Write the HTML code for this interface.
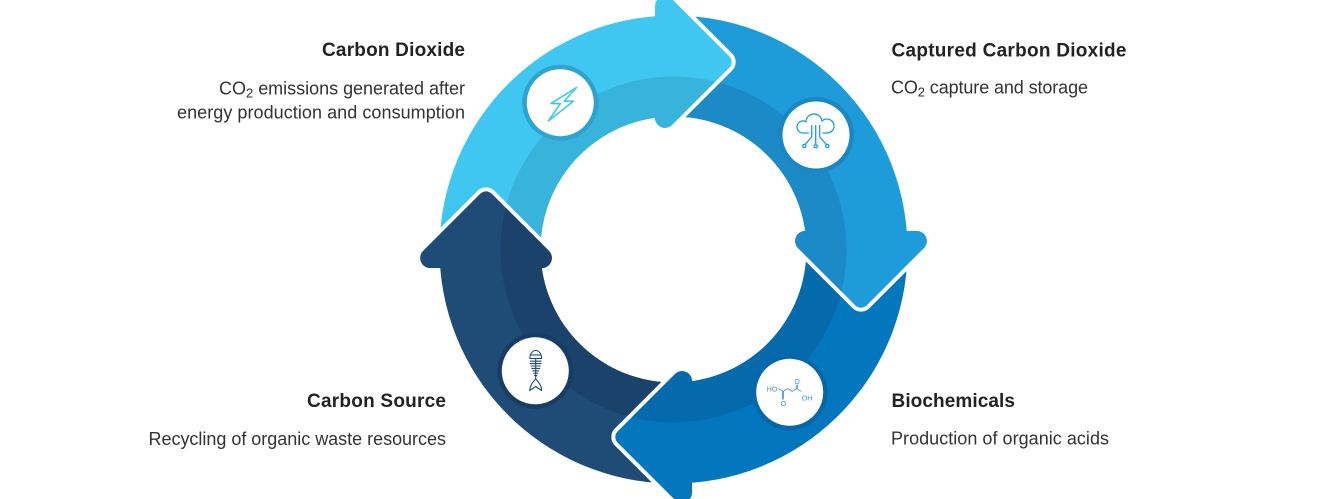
<!DOCTYPE html>
<html>
<head>
<meta charset="utf-8">
<style>
  html, body { margin: 0; padding: 0; background: #ffffff; }
  body { width: 1337px; height: 499px; overflow: hidden; }
  svg { display: block; }
  .t { font-family: "Liberation Sans", Arial, sans-serif; }
</style>
</head>
<body>
<svg width="1337" height="499" viewBox="0 0 1337 499" xmlns="http://www.w3.org/2000/svg">
  <defs>
    <path id="seg" d="M439.65,258 A234,234 0 0 1 665,15.65 L665,116.77 A133,133 0 0 0 540.77,258 Z"/>
    <path id="ah" d="M655,117.86 L655,6.14 A10,10 0 0 1 672.07,-0.93 L729.34,56.34 A8,8 0 0 1 729.34,67.66 L672.07,124.93 A10,10 0 0 1 655,117.86 Z"/>
    <path id="halo" d="M672.07,-0.93 L729.34,56.34 A8,8 0 0 1 729.34,67.66 L672.07,124.93" fill="none" stroke="#ffffff" stroke-width="8" stroke-linejoin="round"/>
    <clipPath id="disk" clipPathUnits="userSpaceOnUse">
      <circle cx="673.5" cy="249.5" r="173"/>
    </clipPath>
  </defs>

  <!-- arc segments -->
  <use href="#seg" fill="#3FC7F2"/>
  <use href="#seg" fill="#1E9CDA" transform="rotate(90 673.5 249.5)"/>
  <use href="#seg" fill="#0277BD" transform="rotate(180 673.5 249.5)"/>
  <use href="#seg" fill="#1F4C77" transform="rotate(270 673.5 249.5)"/>
  <g clip-path="url(#disk)">
    <use href="#seg" fill="#38B3DC"/>
    <use href="#seg" fill="#1B8AC6" transform="rotate(90 673.5 249.5)"/>
    <use href="#seg" fill="#046AAB" transform="rotate(180 673.5 249.5)"/>
    <use href="#seg" fill="#1B426A" transform="rotate(270 673.5 249.5)"/>
  </g>

  <!-- arrowhead white outlines -->
  <use href="#halo"/>
  <use href="#halo" transform="rotate(90 673.5 249.5)"/>
  <use href="#halo" transform="rotate(180 673.5 249.5)"/>
  <use href="#halo" transform="rotate(270 673.5 249.5)"/>

  <!-- arrowheads -->
  <use href="#ah" fill="#3FC7F2"/>
  <use href="#ah" fill="#1E9CDA" transform="rotate(90 673.5 249.5)"/>
  <use href="#ah" fill="#0277BD" transform="rotate(180 673.5 249.5)"/>
  <use href="#ah" fill="#1F4C77" transform="rotate(270 673.5 249.5)"/>
  <g clip-path="url(#disk)">
    <use href="#ah" fill="#38B3DC"/>
    <use href="#ah" fill="#1B8AC6" transform="rotate(90 673.5 249.5)"/>
    <use href="#ah" fill="#046AAB" transform="rotate(180 673.5 249.5)"/>
    <use href="#ah" fill="#1B426A" transform="rotate(270 673.5 249.5)"/>
  </g>

  <!-- icon circles -->
  <circle cx="560.3" cy="102.7" r="38" fill="#2CA4CF"/>
  <circle cx="560.3" cy="102.7" r="33.5" fill="#ffffff"/>
  <circle cx="816" cy="135" r="38" fill="#1987C1"/>
  <circle cx="816" cy="135" r="33.5" fill="#ffffff"/>
  <circle cx="535.3" cy="370.8" r="38" fill="#183D64"/>
  <circle cx="535.3" cy="370.8" r="33.5" fill="#ffffff"/>
  <circle cx="789.7" cy="392.3" r="38" fill="#0567A7"/>
  <circle cx="789.7" cy="392.3" r="33.5" fill="#ffffff"/>

  <!-- lightning icon -->
  <path d="M576.5,87.5 L551,103.6 L560.4,103.6 L548.3,121 L573.5,101.2 L564.2,101.2 Z" fill="none" stroke="#3FC7F2" stroke-width="1.6" stroke-linejoin="round"/>

  <!-- cloud icon -->
  <g fill="none" stroke="#1E9CDA" stroke-width="1.3" stroke-linecap="round" stroke-linejoin="round">
    <path d="M803,133 A6,6 0 1 1 806,121.8 A8,8 0 0 1 821.96,121.14 A7,7 0 1 1 827,133 L823,133 M808.5,133 L803,133"/>
    <path d="M811.7,125.5 V137 L805.2,144.3"/>
    <path d="M815.7,125.5 V144.5"/>
    <path d="M819.7,125.5 V137 L826.2,144.3"/>
    <circle cx="804.3" cy="146" r="1.6"/>
    <circle cx="815.7" cy="146.3" r="1.6"/>
    <circle cx="827.3" cy="146" r="1.6"/>
  </g>

  <!-- fish skeleton icon -->
  <g fill="none" stroke="#1F4C77" stroke-width="1.1" stroke-linejoin="round">
    <path d="M529.8,358.5 A5.9,8 0 0 1 541.6,358.5 Z"/>
    <path d="M531,355 H540.4"/>
    <path d="M535.7,358.5 V380"/>
    <path d="M529.8,361.2 H541.6 M529.8,363.6 H541.6 M530.6,366 H540.8 M531.4,368.4 H540 M532.4,370.8 H539 M533.3,373.2 H538.1 M534.1,375.6 H537.3"/>
    <path d="M535.7,379 C533,382 530,385 529.8,390.5 L535.7,386.5 L541.6,390.5 C541.4,385 538.4,382 535.7,379 Z"/>
  </g>

  <!-- succinic acid icon -->
  <g fill="none" stroke="#3A93DA" stroke-width="0.8" stroke-linejoin="round">
    <path d="M778.2,388.6 L783,391.4 L787.6,388.6 L792.2,391.4 L796.8,388.6 L801.2,391.4"/>
    <path d="M782.4,391.4 V399.5 M783.6,391.4 V399.5"/>
    <path d="M796.2,388.6 V384.6 M797.4,388.6 V384.6"/>
  </g>
  <g class="t" font-size="7" fill="#3A93DA">
    <text x="766.8" y="391.4">HO</text>
    <text x="780.6" y="406">O</text>
    <text x="794.4" y="384">O</text>
    <text x="801.8" y="400.6">OH</text>
  </g>

  <!-- labels -->
  <g class="t">
    <text x="465" y="56" text-anchor="end" font-weight="700" font-size="19" fill="#222222" textLength="143" lengthAdjust="spacing">Carbon Dioxide</text>
    <text x="465" y="94.3" text-anchor="end" font-size="18" fill="#333333" textLength="246" lengthAdjust="spacing">CO<tspan font-size="13" dy="3">2</tspan><tspan dy="-3"> emissions generated after</tspan></text>
    <text x="465" y="118.6" text-anchor="end" font-size="18" fill="#333333" textLength="288" lengthAdjust="spacing">energy production and consumption</text>

    <text x="446" y="406.8" text-anchor="end" font-weight="700" font-size="19" fill="#222222" textLength="139" lengthAdjust="spacing">Carbon Source</text>
    <text x="446" y="445" text-anchor="end" font-size="18" fill="#333333" textLength="297.5" lengthAdjust="spacing">Recycling of organic waste resources</text>

    <text x="891.5" y="56.5" font-weight="700" font-size="19" fill="#222222" textLength="235" lengthAdjust="spacing">Captured Carbon Dioxide</text>
    <text x="891" y="93.5" font-size="18" fill="#333333" textLength="197" lengthAdjust="spacing">CO<tspan font-size="13" dy="3">2</tspan><tspan dy="-3"> capture and storage</tspan></text>

    <text x="891.5" y="406.8" font-weight="700" font-size="19" fill="#222222" textLength="123.5" lengthAdjust="spacing">Biochemicals</text>
    <text x="891" y="444.5" font-size="18" fill="#333333" textLength="218" lengthAdjust="spacing">Production of organic acids</text>
  </g>
</svg>
</body>
</html>
